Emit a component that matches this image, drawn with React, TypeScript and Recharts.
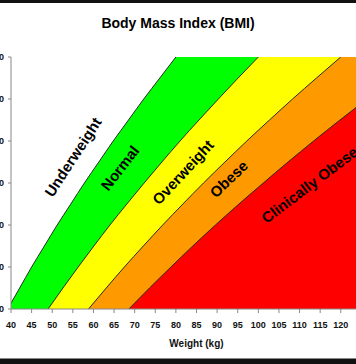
import {
  Area,
  CartesianGrid,
  ComposedChart,
  ReferenceDot,
  XAxis,
  YAxis,
} from "recharts";

// height in cm, and the weight (kg) of each BMI boundary at that height
const heightsCm = [140, 145, 150, 155, 160, 165, 170, 175, 180, 185, 190, 195, 200];
const bmi20Kg = [39.2, 42.1, 45.0, 48.1, 51.2, 54.5, 57.8, 61.3, 64.8, 68.5, 72.2, 76.1, 80.0];
const bmi25Kg = [49.0, 52.6, 56.3, 60.1, 64.0, 68.1, 72.3, 76.6, 81.0, 85.6, 90.3, 95.1, 100.0];
const bmi30Kg = [58.8, 63.1, 67.5, 72.1, 76.8, 81.7, 86.7, 91.9, 97.2, 102.7, 108.3, 114.1, 120.0];
const bmi35Kg = [68.6, 73.6, 78.8, 84.1, 89.6, 95.3, 101.2, 107.2, 113.4, 119.8, 126.4, 133.1, 140.0];

const weightTicks = [40, 45, 50, 55, 60, 65, 70, 75, 80, 85, 90, 95, 100, 105, 110, 115, 120];
const heightTicks = [140, 150, 160, 170, 180, 190, 200];

const bandNames = ["Underweight", "Normal", "Overweight", "Obese", "Clinically Obese"];

const rows = heightsCm.map((h, i) => ({
  h,
  b20: bmi20Kg[i],
  b25: bmi25Kg[i],
  b30: bmi30Kg[i],
  b35: bmi35Kg[i],
}));

// where each band name sits (kg, cm) and its slant
const labelSpots = [
  { kg: 55.0, cm: 176.2, angle: -57 },
  { kg: 66.4, cm: 173.6, angle: -52 },
  { kg: 81.7, cm: 172.6, angle: -47 },
  { kg: 92.8, cm: 171.0, angle: -44 },
  { kg: 112.4, cm: 169.6, angle: -37 },
];

const font = "'Liberation Sans', Arial, sans-serif";
const line = "#2a2a2a";

const App = () => {
  return (
    <div
      style={{
        position: "absolute",
        left: 0,
        top: 0,
        width: 356,
        height: 364,
        overflow: "hidden",
        background: "#fff",
        fontFamily: font,
      }}
    >
      <div style={{ position: "absolute", left: 0, top: 0, width: 356, height: 3, background: "#111" }} />
      <div
        style={{
          position: "absolute",
          left: 0,
          top: 14,
          width: 356,
          textAlign: "center",
          fontSize: 14,
          fontWeight: "bold",
          color: "#000",
          lineHeight: "18px",
        }}
      >
        Body Mass Index (BMI)
      </div>

      <div style={{ position: "absolute", left: -29, top: 0 }}>
        <ComposedChart
          layout="vertical"
          width={416}
          height={354}
          data={rows}
          margin={{ top: 57, right: 5, bottom: 0, left: 0 }}
        >
          <CartesianGrid fill="#ff0000" horizontal={false} vertical={false} />
          <XAxis
            type="number"
            domain={[40, 130]}
            ticks={weightTicks}
            allowDataOverflow
            interval={0}
            height={45}
            tickSize={4}
            tickMargin={9}
            stroke="#888"
            tick={{ fill: "#111", fontSize: 9, fontWeight: "bold", fontFamily: font }}
            label={{
              value: "Weight (kg)",
              position: "insideBottom",
              offset: 7,
              fill: "#111",
              fontSize: 10,
              fontWeight: "bold",
              fontFamily: font,
            }}
          />
          <YAxis
            type="number"
            dataKey="h"
            domain={[140, 200]}
            ticks={heightTicks}
            reversed
            allowDataOverflow
            width={40}
            tickSize={3}
            tickMargin={4}
            stroke="#888"
            tick={{ fill: "#111", fontSize: 9, fontWeight: "bold", fontFamily: font }}
          />
          <Area
            dataKey="b35"
            type="monotone"
            fill="#ff9900"
            fillOpacity={1}
            stroke={line}
            strokeWidth={1}
            isAnimationActive={false}
          />
          <Area
            dataKey="b30"
            type="monotone"
            fill="#ffff00"
            fillOpacity={1}
            stroke={line}
            strokeWidth={1}
            isAnimationActive={false}
          />
          <Area
            dataKey="b25"
            type="monotone"
            fill="#00ff00"
            fillOpacity={1}
            stroke={line}
            strokeWidth={1}
            isAnimationActive={false}
          />
          <Area
            dataKey="b20"
            type="monotone"
            fill="#ffffff"
            fillOpacity={1}
            stroke={line}
            strokeWidth={1}
            isAnimationActive={false}
          />
          {bandNames.map((name, i) => (
            <ReferenceDot
              key={name}
              x={labelSpots[i].kg}
              y={labelSpots[i].cm}
              r={0}
              ifOverflow="visible"
              shape={(p: any) => (
                <text
                  x={p.cx}
                  y={p.cy}
                  textAnchor="middle"
                  dominantBaseline="central"
                  fontSize={15}
                  fontWeight="bold"
                  fontFamily={font}
                  fill="#000"
                  transform={`rotate(${labelSpots[i].angle} ${p.cx} ${p.cy})`}
                >
                  {name}
                </text>
              )}
            />
          ))}
        </ComposedChart>
      </div>

      <div style={{ position: "absolute", left: 0, top: 358, width: 356, height: 1, background: "#888" }} />
      <div style={{ position: "absolute", left: 0, top: 359, width: 356, height: 5, background: "#111" }} />
    </div>
  );
};

export default App;
